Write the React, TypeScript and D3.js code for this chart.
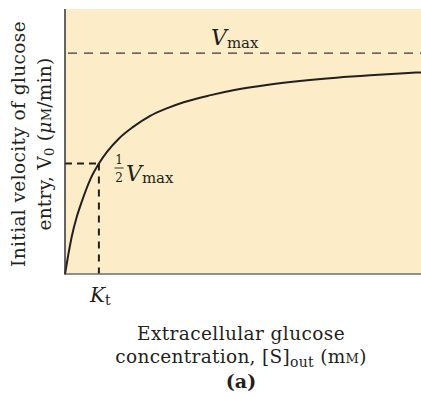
import React from "react";
import * as d3 from "d3";

// Substrate concentration (mM, arbitrary units of the sketch) and velocity (fraction of Vmax)
const sValues = [0, 0.1, 0.2, 0.35, 0.5, 0.75, 1, 1.25, 1.6, 2, 2.5, 3, 3.5, 4.3, 5, 6, 7, 8, 9, 10, 10.5];
const vValues = [0, 0.09, 0.17, 0.26, 0.33, 0.43, 0.5, 0.555, 0.615, 0.665, 0.715, 0.75, 0.778, 0.81, 0.833, 0.857, 0.875, 0.889, 0.9, 0.909, 0.913];
const vmax = 1;
const halfVmax = 0.5;
const kt = 1;
const xDomain = [0, 10.5];
const yDomain = [0, 1.2];

const W = 421;
const H = 397;
const margin = { left: 65, right: 0, top: 9, bottom: 123 };

const FONT = "'DejaVu Serif', serif";
const INK = "#231f20";

export default function App() {
  const x = d3.scaleLinear().domain(xDomain).range([margin.left, W - margin.right]);
  const y = d3.scaleLinear().domain(yDomain).range([H - margin.bottom, margin.top]);
  const pts: [number, number][] = sValues.map((s, i) => [s, vValues[i]]);
  const line = d3
    .line<[number, number]>()
    .x((d) => x(d[0]))
    .y((d) => y(d[1]))
    .curve(d3.curveMonotoneX);

  const x0 = x(0);
  const y0 = y(0);
  const xR = x(xDomain[1]);
  const yT = y(yDomain[1]);

  return (
    <svg
      width={W}
      height={H}
      style={{ position: "absolute", left: 0, top: 0, background: "#fff" }}
      fontFamily={FONT}
    >
      <rect x={x0} y={yT} width={xR - x0} height={y0 - yT} fill="#fcedc8" />
      {/* Vmax dashed */}
      <line x1={x0} x2={xR} y1={y(vmax)} y2={y(vmax)} stroke="#3a3a3a" strokeWidth={1.3} strokeDasharray="9,7" strokeDashoffset={-3} />
      {/* half Vmax dashed */}
      <line x1={x0} x2={x(kt)} y1={y(halfVmax)} y2={y(halfVmax)} stroke={INK} strokeWidth={2} strokeDasharray="7,5" />
      <line x1={x(kt)} x2={x(kt)} y1={y(halfVmax)} y2={y0} stroke={INK} strokeWidth={2} strokeDasharray="7,6" />
      {/* curve */}
      <path d={line(pts) || ""} fill="none" stroke={INK} strokeWidth={2} />
      {/* axes */}
      <line x1={x0} x2={xR} y1={y0} y2={y0} stroke="#6d6d6d" strokeWidth={1.5} />
      <line x1={x0} x2={x0} y1={yT} y2={y0 + 0.75} stroke="#333" strokeWidth={1.5} />

      {/* Vmax label */}
      <text x={211} y={45} fill={INK} fontSize={22}>
        <tspan fontStyle="italic">V</tspan>
        <tspan fontSize={15} dy={2.5}>max</tspan>
      </text>
      {/* 1/2 Vmax label */}
      <g fill={INK}>
        <text x={119} y={164} fontSize={12} textAnchor="middle">1</text>
        <line x1={114.5} x2={123.5} y1={168} y2={168} stroke={INK} strokeWidth={0.9} />
        <text x={119} y={182} fontSize={12} textAnchor="middle">2</text>
        <text x={126} y={181} fontSize={22}>
          <tspan fontStyle="italic">V</tspan>
          <tspan fontSize={15} dy={1.5}>max</tspan>
        </text>
      </g>
      {/* Kt label */}
      <text x={90} y={302} fill={INK} fontSize={20}>
        <tspan fontStyle="italic">K</tspan>
        <tspan fontSize={14} dy={3}>t</tspan>
      </text>

      {/* x axis title */}
      <text x={241} y={340} fill={INK} fontSize={18.5} letterSpacing={0.4} textAnchor="middle">Extracellular glucose</text>
      <text x={241} y={363} fill={INK} fontSize={18.5} letterSpacing={0.3} textAnchor="middle">
        concentration, [S]<tspan fontSize={14} dy={4}>out</tspan>
        <tspan dy={-4}> (m</tspan>
        <tspan fontSize={13}>M</tspan>
        <tspan>)</tspan>
      </text>
      <text x={241} y={388} fill={INK} fontSize={19} fontWeight="bold" textAnchor="middle">(a)</text>

      {/* y axis title */}
      <text transform="translate(25,144) rotate(-90)" fill={INK} fontSize={18.5} letterSpacing={0.4} textAnchor="middle">
        Initial velocity of glucose
      </text>
      <text transform="translate(51,144) rotate(-90)" fill={INK} fontSize={18.5} letterSpacing={0.3} textAnchor="middle">
        entry, V<tspan fontSize={13} dy={3}>0</tspan>
        <tspan dy={-3}> (</tspan>
        <tspan fontStyle="italic">μ</tspan>
        <tspan fontSize={13}>M</tspan>
        <tspan>/min)</tspan>
      </text>
    </svg>
  );
}
